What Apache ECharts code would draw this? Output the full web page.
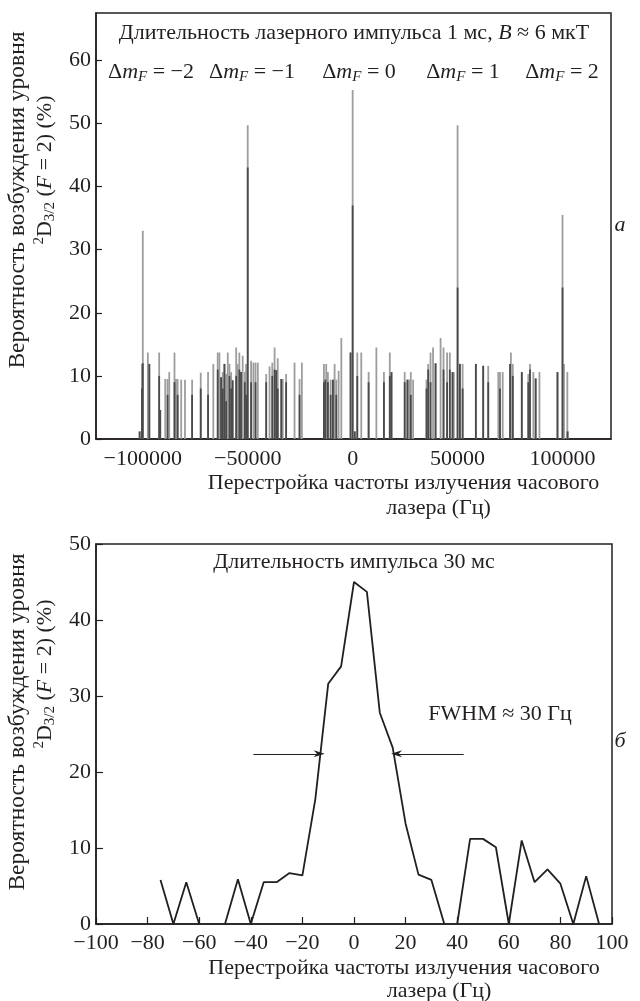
<!DOCTYPE html>
<html><head><meta charset="utf-8">
<script src="https://cdn.jsdelivr.net/npm/echarts@6/dist/echarts.min.js"></script>
<style>html,body{margin:0;padding:0;background:#fff}#c{width:640px;height:1001px}</style>
</head><body><div id="c"></div>
<script>
// ---------- Panel a: spectrum, 1 ms pulse ----------
const spikeHz = [-101500,-100400,-100000,-97600,-96900,-92200,-91700,-89300,-88200,-87400,
  -84900,-84200,-83400,-81700,-79900,-76500,-72400,-68900,-66400,-64300,
  -63500,-62700,-61900,-61100,-60300,-59500,-58700,-57900,-57200,-55500,
  -54800,-54000,-53200,-52400,-51400,-50800,-50000,-48400,-47300,-46300,
  -45200,-41200,-39600,-38300,-37200,-36400,-35700,-34000,-33300,-31700,
  -27700,-25300,-24200,-13700,-13000,-12600,-11800,-10500,-9400,-8600,
  -7800,-6700,-5400,-1000,0,1000,2200,4100,7600,11300,
  14900,17700,18500,24800,26100,26900,27700,28800,35200,36000,
  37100,38300,39500,41900,43300,45000,46300,47600,48200,50000,
  51100,52400,58700,62200,64600,69400,70200,71500,75000,75400,
  76300,80600,83700,84500,86100,87200,89000,97600,100000,100700,
  102300,102400];
const spikeLight = [1.2,11.9,33,13.7,11.9,13.7,4.6,9.5,9.5,10.6,
  13.7,9.5,9.5,9.4,9.4,9.4,10.5,10.6,11.9,13.7,
  13.7,9.8,10.6,11.9,10.3,13.7,11.9,10.6,9.3,14.5,
  11.9,13.7,10.6,13.2,10.6,11.9,49.7,12.4,12.1,12.1,
  12.1,10.3,11.5,12.1,14.5,10.9,12.8,9.5,9.5,10.3,
  12.1,9.5,12.1,11.9,9.4,11.9,10.6,9.4,9.4,11.9,
  9.4,10.8,16.0,13.7,55.3,1.2,13.7,13.7,10.6,14.5,
  10.6,13.7,10.6,10.6,9.4,9.4,10.6,9.4,9.4,11.9,
  13.7,14.5,12,16.0,14.5,13.7,13.7,10.6,10.6,49.7,
  11.9,11.9,11.9,11.6,11.6,10.6,10.6,10.6,11.9,13.7,
  11.9,10.6,10.3,11.9,10.6,9.6,10.6,10.6,35.5,11.9,
  10.6,1.2];
const spikeDark = [1.2,8,12,0,11.9,10,4.6,0,7,0,
  9,0,7,0,0,7,8,7,0,11,
  0,9.8,8,11.9,6,0,10,8,9.3,10,
  0,11,10.6,0,9,7,43,9,0,9,
  0,9,0,10,11,10.9,8,9.5,0,9,
  0,7,0,9,9.4,0,9,7,9.4,0,
  7,0,0,13.7,37,1.2,10,0,9,0,
  9,10,10.6,9,9.4,0,7,0,8,11,
  9,0,12,0,11,9,11,10.6,0,24,
  11.9,8,11.9,11.6,9,0,8,0,11.9,0,
  10,10.6,9,11,0,9.6,0,10.6,24,0,
  0,1.2];
const topXTicks = [-100000, -50000, 0, 50000, 100000];
const topYTicks = [0, 10, 20, 30, 40, 50, 60];

// ---------- Panel b: 30 ms pulse line ----------
const detuning = [-75,-70,-65,-60,-55,-50,-45,-40,-35,-30,-25,-20,-15,-10,-5,0,5,10,15,20,25,30,35,37.5,40,45,50,55,60,65,70,75,80,85,90,95];
const probability = [5.8,0,5.5,0,null,0,5.9,0,5.5,5.5,6.7,6.4,16.4,31.6,33.9,45.0,43.7,27.8,23.2,13.2,6.5,5.8,0,null,0,11.2,11.2,10.1,0,11.0,5.5,7.2,5.3,0,6.3,0];
const fwhmArrows = [[[-39, 22.4], [-13.5, 22.4]], [[42.5, 22.4], [16.5, 22.4]]];

const FONT = '"Liberation Serif", "DejaVu Serif", serif';
const TXT = '#231f20';
const FS = 22;
const minus = v => (v < 0 ? '\u2212' + Math.abs(v) : String(v));

const rich = {
  r: { fontFamily: FONT, fontSize: FS, color: TXT, lineHeight: 26 },
  big: { fontFamily: FONT, fontSize: 23.5, color: TXT, lineHeight: 26 },
  i: { fontFamily: FONT, fontSize: FS, color: TXT, fontStyle: 'italic', lineHeight: 26 },
  sub: { fontFamily: FONT, fontSize: 15, color: TXT, fontStyle: 'italic', verticalAlign: 'bottom', lineHeight: 15 },
  subr: { fontFamily: FONT, fontSize: 15, color: TXT, verticalAlign: 'bottom', lineHeight: 15 },
  sup: { fontFamily: FONT, fontSize: 15, color: TXT, verticalAlign: 'top', lineHeight: 15 }
};
function txt(x, y, text, rot) {
  return { type: 'text', x: x, y: y, rotation: rot || 0, silent: true,
    style: { text: text, rich: rich, fontFamily: FONT, fontSize: FS, fill: TXT,
      align: 'center', verticalAlign: 'middle', textAlign: 'center', textVerticalAlign: 'middle' } };
}

const axisLineStyle = { show: true, onZero: false, lineStyle: { color: TXT, width: 1.5 } };
const labelBase = { color: TXT, fontFamily: FONT, fontSize: FS };
const xNameRichTop = {
  l1: { fontFamily: FONT, fontSize: FS, color: TXT, lineHeight: 26 },
  l2: { fontFamily: FONT, fontSize: FS, color: TXT, lineHeight: 24, padding: [0, 0, 0, 70] }
};
const xNameRichBottom = {
  l1: { fontFamily: FONT, fontSize: FS, color: TXT, lineHeight: 23 },
  l2: { fontFamily: FONT, fontSize: FS, color: TXT, lineHeight: 22, padding: [0, 0, 0, 70] }
};
const xName = '{l1|Перестройка частоты излучения часового}\n{l2|лазера (Гц)}';

const chart = echarts.init(document.getElementById('c'), null, { renderer: 'canvas' });
chart.setOption({
  animation: false,
  backgroundColor: '#fff',
  grid: [
    { left: 96, top: 13, width: 515, height: 426, outerBoundsMode: 'none', containLabel: false,
      show: true, borderColor: TXT, borderWidth: 1.5, backgroundColor: 'transparent' },
    { left: 96, top: 544, width: 516, height: 380, outerBoundsMode: 'none', containLabel: false,
      show: true, borderColor: TXT, borderWidth: 1.5, backgroundColor: 'transparent' }
  ],
  xAxis: [
    { type: 'value', gridIndex: 0, min: -122300, max: 123100,
      axisLine: axisLineStyle, axisTick: { show: false }, splitLine: { show: false },
      axisLabel: Object.assign({ customValues: topXTicks, formatter: minus, margin: 9 }, labelBase),
      name: xName, nameLocation: 'middle', nameGap: 31,
      nameTextStyle: Object.assign({ padding: [0, 0, 0, 100], rich: xNameRichTop }, labelBase) },
    { type: 'value', gridIndex: 1, min: -100, max: 100, interval: 20,
      axisLine: axisLineStyle, axisTick: { show: true, inside: true, length: 7, lineStyle: { color: TXT, width: 1.2 } },
      splitLine: { show: false },
      axisLabel: Object.assign({ formatter: minus, margin: 8 }, labelBase),
      name: xName, nameLocation: 'middle', nameGap: 33,
      nameTextStyle: Object.assign({ padding: [0, 0, 0, 100], rich: xNameRichBottom }, labelBase) }
  ],
  yAxis: [
    { type: 'value', gridIndex: 0, min: 0, max: 67.5,
      axisLine: axisLineStyle, splitLine: { show: false },
      axisTick: { show: true, inside: true, length: 6, customValues: topYTicks, lineStyle: { color: TXT, width: 1.2 } },
      axisLabel: Object.assign({ customValues: topYTicks, margin: 5 }, labelBase) },
    { type: 'value', gridIndex: 1, min: 0, max: 50, interval: 10,
      axisLine: axisLineStyle, splitLine: { show: false },
      axisTick: { show: true, inside: true, length: 7, lineStyle: { color: TXT, width: 1.2 } },
      axisLabel: Object.assign({ margin: 5 }, labelBase) }
  ],
  series: [
    { type: 'bar', name: 'light', xAxisIndex: 0, yAxisIndex: 0, barWidth: 1.8, barGap: '-100%', silent: true,
      itemStyle: { color: '#9d9d9d' }, data: spikeHz.map((x, i) => [x, spikeLight[i]]) },
    { type: 'bar', name: 'dark', xAxisIndex: 0, yAxisIndex: 0, barWidth: 1.8, barGap: '-100%', silent: true,
      itemStyle: { color: '#4a4a4a' }, data: spikeHz.map((x, i) => [x, spikeDark[i]]) },
    { type: 'line', name: '30 ms', xAxisIndex: 1, yAxisIndex: 1, symbol: 'none', silent: true,
      lineStyle: { color: TXT, width: 1.8 }, connectNulls: false,
      data: detuning.map((x, i) => [x, probability[i] === null ? '-' : probability[i]]),
      markLine: { silent: true, symbol: ['none', 'path://M5,0L10,13L5,9L0,13Z'], symbolSize: [7, 11],
        lineStyle: { color: TXT, width: 1, type: 'solid' }, label: { show: false },
        data: fwhmArrows.map(a => [{ coord: a[0] }, { coord: a[1] }]) } }
  ],
  graphic: [
    txt(354, 33, '{r|Длительность лазерного импульса 1 мс, }{i|B}{r| ≈ 6 мкТ}'),
    txt(151, 72, '{r|Δ}{i|m}{sub|F}{r| = −2}'),
    txt(252, 72, '{r|Δ}{i|m}{sub|F}{r| = −1}'),
    txt(359, 72, '{r|Δ}{i|m}{sub|F}{r| = 0}'),
    txt(463, 72, '{r|Δ}{i|m}{sub|F}{r| = 1}'),
    txt(562, 72, '{r|Δ}{i|m}{sub|F}{r| = 2}'),
    txt(18, 200, '{big|Вероятность возбуждения уровня}', Math.PI / 2),
    txt(45, 170, '{sup|2}{r|D}{subr|3/2}{r| (}{i|F}{r| = 2) (%)}', Math.PI / 2),
    txt(620, 225, '{i|а}'),
    txt(354, 562, '{r|Длительность импульса 30 мс}'),
    txt(500, 714, '{r|FWHM ≈ 30 Гц}'),
    txt(18, 722, '{big|Вероятность возбуждения уровня}', Math.PI / 2),
    txt(45, 674, '{sup|2}{r|D}{subr|3/2}{r| (}{i|F}{r| = 2) (%)}', Math.PI / 2),
    txt(620, 741, '{i|б}')
  ]
});
</script></body></html>
